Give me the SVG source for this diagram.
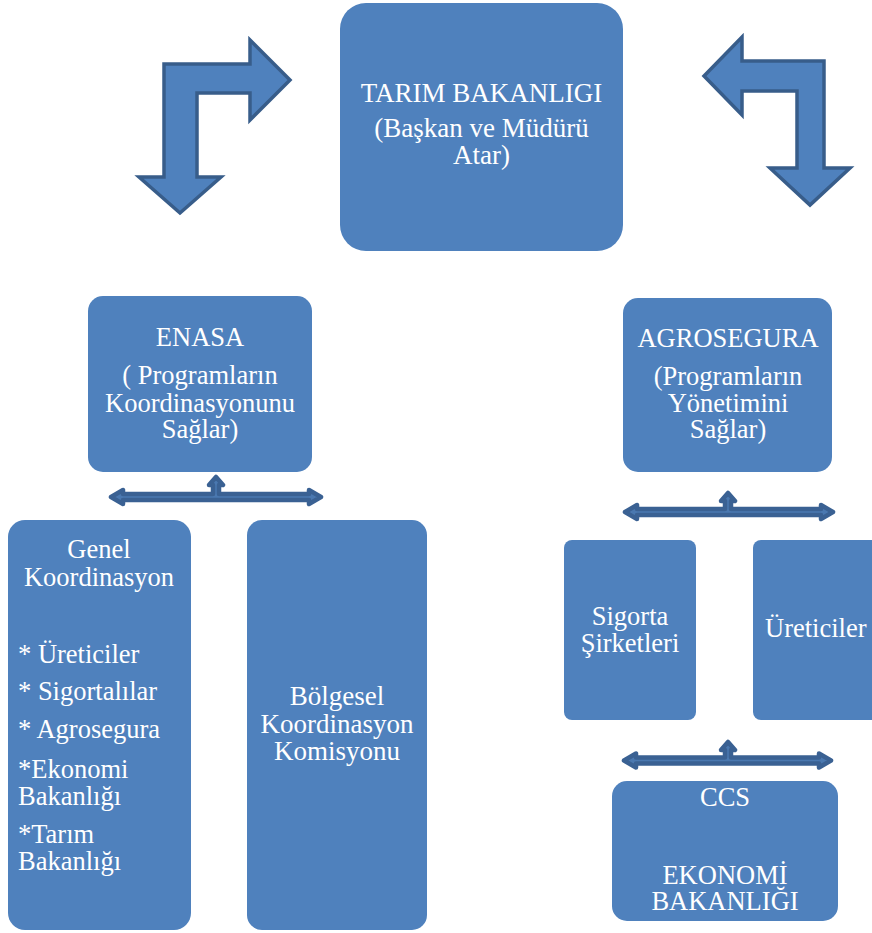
<svg xmlns="http://www.w3.org/2000/svg" width="872" height="933" viewBox="0 0 872 933">
<style>
.box{fill:#4f81bd;}
.t{font-family:"Liberation Serif","Times New Roman",serif;font-size:26.5px;fill:#ffffff;}
.c{text-anchor:middle;}
.bent{fill:#4f81bd;stroke:#385d8a;stroke-width:3.5;stroke-linejoin:miter;}
.tri{fill:#4a78b0;stroke:#3a6193;stroke-width:4.5;stroke-linejoin:round;}
</style>
<rect width="872" height="933" fill="#ffffff"/>
<g id="connectors">
<polygon class="bent" points="164,64 250,64 250,40 290,80 250,120 250,93 197,93 197,177 221,177 180,213 139,177 164,177"/>
<polygon class="bent" points="742,61 824,61 824,168 850,168 810,205 770,168 797,168 797,91 742,91 742,115 704,76 742,37"/>
<polygon class="tri" points="111,497 123,490 123,494 213,494 213,485 209,485 216,477 223,485 219,485 219,494 309,494 309,490 321,497 309,504 309,500 123,500 123,504"/>
<polygon class="tri" points="625,512 637,505 637,509 725,509 725,501 721,501 728,493 735,501 731,501 731,509 821,509 821,505 833,512 821,519 821,515 637,515 637,519"/>
<polygon class="tri" points="624,760.5 636,753.5 636,757.5 725,757.5 725,750 721,750 728,742 735,750 731,750 731,757.5 819,757.5 819,753.5 831,760.5 819,767.5 819,763.5 636,763.5 636,767.5"/>
</g>
<g id="tarim">
<rect class="box" x="340" y="3" width="283" height="248" rx="26"/>
<text class="t c" x="481.5" y="102" style="font-size:27px">TARIM BAKANLIGI</text>
<text class="t c" x="481.5" y="137" style="font-size:27px">(Başkan ve Müdürü</text>
<text class="t c" x="481.5" y="164" style="font-size:27px">Atar)</text>
</g>
<g id="enasa">
<rect class="box" x="88" y="296" width="224" height="176" rx="15"/>
<text class="t c" x="200" y="346">ENASA</text>
<text class="t c" x="200" y="384">( Programların</text>
<text class="t c" x="200" y="412">Koordinasyonunu</text>
<text class="t c" x="200" y="438">Sağlar)</text>
</g>
<g id="agrosegura">
<rect class="box" x="623" y="298" width="209" height="174" rx="15"/>
<text class="t c" x="728" y="347">AGROSEGURA</text>
<text class="t c" x="728" y="385">(Programların</text>
<text class="t c" x="728" y="412">Yönetimini</text>
<text class="t c" x="728" y="438">Sağlar)</text>
</g>
<g id="genel">
<rect class="box" x="8" y="520" width="183" height="410" rx="17"/>
<text class="t c" x="99" y="558">Genel</text>
<text class="t c" x="99" y="586">Koordinasyon</text>
<text class="t" x="18" y="663">* Üreticiler</text>
<text class="t" x="18" y="700">* Sigortalılar</text>
<text class="t" x="18" y="738">* Agrosegura</text>
<text class="t" x="18" y="778">*Ekonomi</text>
<text class="t" x="18" y="805">Bakanlığı</text>
<text class="t" x="18" y="843">*Tarım</text>
<text class="t" x="18" y="870">Bakanlığı</text>
</g>
<g id="bolgesel">
<rect class="box" x="247" y="520" width="180" height="410" rx="15"/>
<text class="t c" x="337" y="705" style="font-size:27px">Bölgesel</text>
<text class="t c" x="337" y="733" style="font-size:27px">Koordinasyon</text>
<text class="t c" x="337" y="760" style="font-size:27px">Komisyonu</text>
</g>
<g id="sigorta">
<rect class="box" x="564" y="540" width="132" height="180" rx="8"/>
<text class="t c" x="630" y="625">Sigorta</text>
<text class="t c" x="630" y="652">Şirketleri</text>
</g>
<g id="ureticiler">
<rect class="box" x="753" y="540" width="132" height="180" rx="8"/>
<text class="t" x="765" y="637">Üreticiler</text>
</g>
<g id="ccs">
<rect class="box" x="612" y="781" width="226" height="140" rx="15"/>
<text class="t c" x="725" y="806">CCS</text>
<text class="t c" x="725" y="884">EKONOMİ</text>
<text class="t c" x="725" y="910">BAKANLIĞI</text>
</g>
</svg>
